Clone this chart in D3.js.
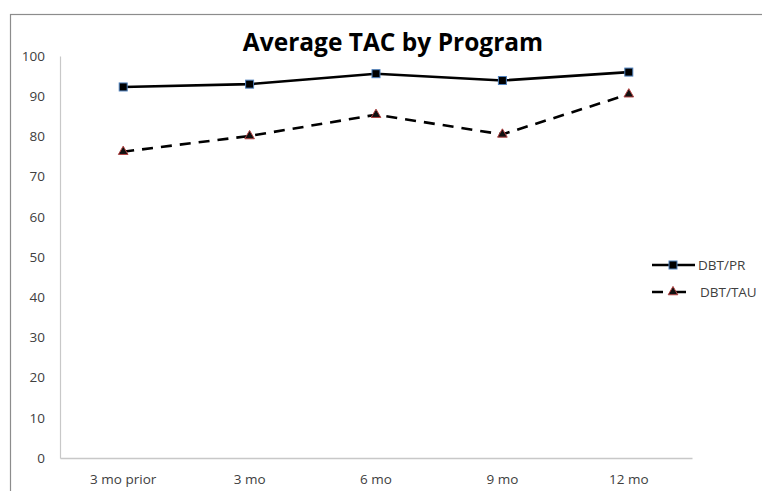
<!DOCTYPE html>
<html>
<head>
<meta charset="utf-8">
<script src="https://cdn.jsdelivr.net/npm/d3@7"></script>
<style>
  body { margin: 0; background: #fff; }
  text { font-family: "Open Sans", sans-serif; }
</style>
</head>
<body>
<div id="chart"></div>
<script>
// chart data
var categories = ["3 mo prior", "3 mo", "6 mo", "9 mo", "12 mo"];
var seriesNames = ["DBT/PR", "DBT/TAU"];
var prValues = [92.3, 93.0, 95.6, 93.9, 96.0];
var tauValues = [76.2, 80.1, 85.4, 80.5, 90.5];
var yTicks = [0, 10, 20, 30, 40, 50, 60, 70, 80, 90, 100];

(function () {
    var width = 762;
    var height = 491;
    var plotLeft = 60, plotRight = 692, plotTop = 56, plotBottom = 458;
    var labelSize = 13.5;

    var svg = d3.select("#chart").append("svg")
        .attr("width", width).attr("height", height);

    // outer chart border (runs off the right and bottom like the picture)
    svg.append("rect")
        .attr("x", 10.5).attr("y", 14.5)
        .attr("width", 800).attr("height", 600)
        .attr("fill", "none").attr("stroke", "#8c8c8c").attr("stroke-width", 1.2);

    var x = d3.scaleBand().domain(categories).range([plotLeft, plotRight]);
    var y = d3.scaleLinear().domain([0, 100]).range([plotBottom, plotTop]);

    // title
    svg.append("text")
        .attr("x", 393).attr("y", 51)
        .attr("text-anchor", "middle")
        .attr("font-size", 24.5).attr("font-weight", "bold")
        .attr("fill", "#000")
        .text("Average TAC by Program");

    // y axis
    var yAxis = svg.append("g")
        .attr("transform", "translate(" + plotLeft + ",0)")
        .call(d3.axisLeft(y).tickValues(yTicks).tickSize(0).tickPadding(15));
    yAxis.select(".domain").attr("stroke", "#c8c8c8").attr("stroke-width", 1.2);
    yAxis.selectAll("text").attr("font-size", labelSize).attr("fill", "#404040")
        .attr("font-family", "Open Sans, sans-serif");

    // x axis
    var xAxis = svg.append("g")
        .attr("transform", "translate(0," + plotBottom + ")")
        .call(d3.axisBottom(x).tickSize(0).tickPadding(16));
    xAxis.select(".domain").attr("stroke", "#c8c8c8").attr("stroke-width", 1.5);
    xAxis.selectAll("text").attr("font-size", labelSize).attr("fill", "#404040")
        .attr("font-family", "Open Sans, sans-serif");

    var cx = function (d, i) { return x(categories[i]) + x.bandwidth() / 2; };
    var line = d3.line()
        .x(function (d, i) { return cx(d, i); })
        .y(function (d) { return y(d); });

    // DBT/TAU dashed line
    svg.append("path")
        .datum(tauValues)
        .attr("d", line)
        .attr("fill", "none").attr("stroke", "#000")
        .attr("stroke-width", 2.6).attr("stroke-dasharray", "11,8");

    // DBT/PR solid line
    svg.append("path")
        .datum(prValues)
        .attr("d", line)
        .attr("fill", "none").attr("stroke", "#000")
        .attr("stroke-width", 2.6);

    var tri = d3.symbol().type(d3.symbolTriangle).size(40);

    svg.selectAll(".tau").data(tauValues).enter().append("path")
        .attr("class", "tau")
        .attr("d", tri)
        .attr("transform", function (d, i) { return "translate(" + cx(d, i) + "," + y(d) + ")"; })
        .attr("fill", "#111").attr("stroke", "#b04040").attr("stroke-width", 1);

    svg.selectAll(".pr").data(prValues).enter().append("rect")
        .attr("class", "pr")
        .attr("x", function (d, i) { return cx(d, i) - 4; })
        .attr("y", function (d) { return y(d) - 4; })
        .attr("width", 8).attr("height", 8)
        .attr("fill", "#000").attr("stroke", "#4f81bd").attr("stroke-width", 1);

    // legend
    var legend = svg.append("g");
    var ly = [265, 292];
    legend.append("line")
        .attr("x1", 652).attr("x2", 695).attr("y1", ly[0]).attr("y2", ly[0])
        .attr("stroke", "#000").attr("stroke-width", 2.6);
    legend.append("rect")
        .attr("x", 669).attr("y", ly[0] - 4).attr("width", 8).attr("height", 8)
        .attr("fill", "#000").attr("stroke", "#4f81bd").attr("stroke-width", 1);
    legend.append("line")
        .attr("x1", 652).attr("x2", 686).attr("y1", ly[1]).attr("y2", ly[1])
        .attr("stroke", "#000").attr("stroke-width", 2.6).attr("stroke-dasharray", "11,7,20");
    legend.append("path")
        .attr("d", tri)
        .attr("transform", "translate(673," + ly[1] + ")")
        .attr("fill", "#111").attr("stroke", "#b04040").attr("stroke-width", 1);

    legend.selectAll(".lbl").data(seriesNames).enter().append("text")
        .attr("class", "lbl")
        .attr("x", function (d, i) { return i === 0 ? 698 : 700; })
        .attr("y", function (d, i) { return ly[i] + 5; })
        .attr("font-size", labelSize).attr("fill", "#404040")
        .text(function (d) { return d; });
})();
</script>
</body>
</html>
